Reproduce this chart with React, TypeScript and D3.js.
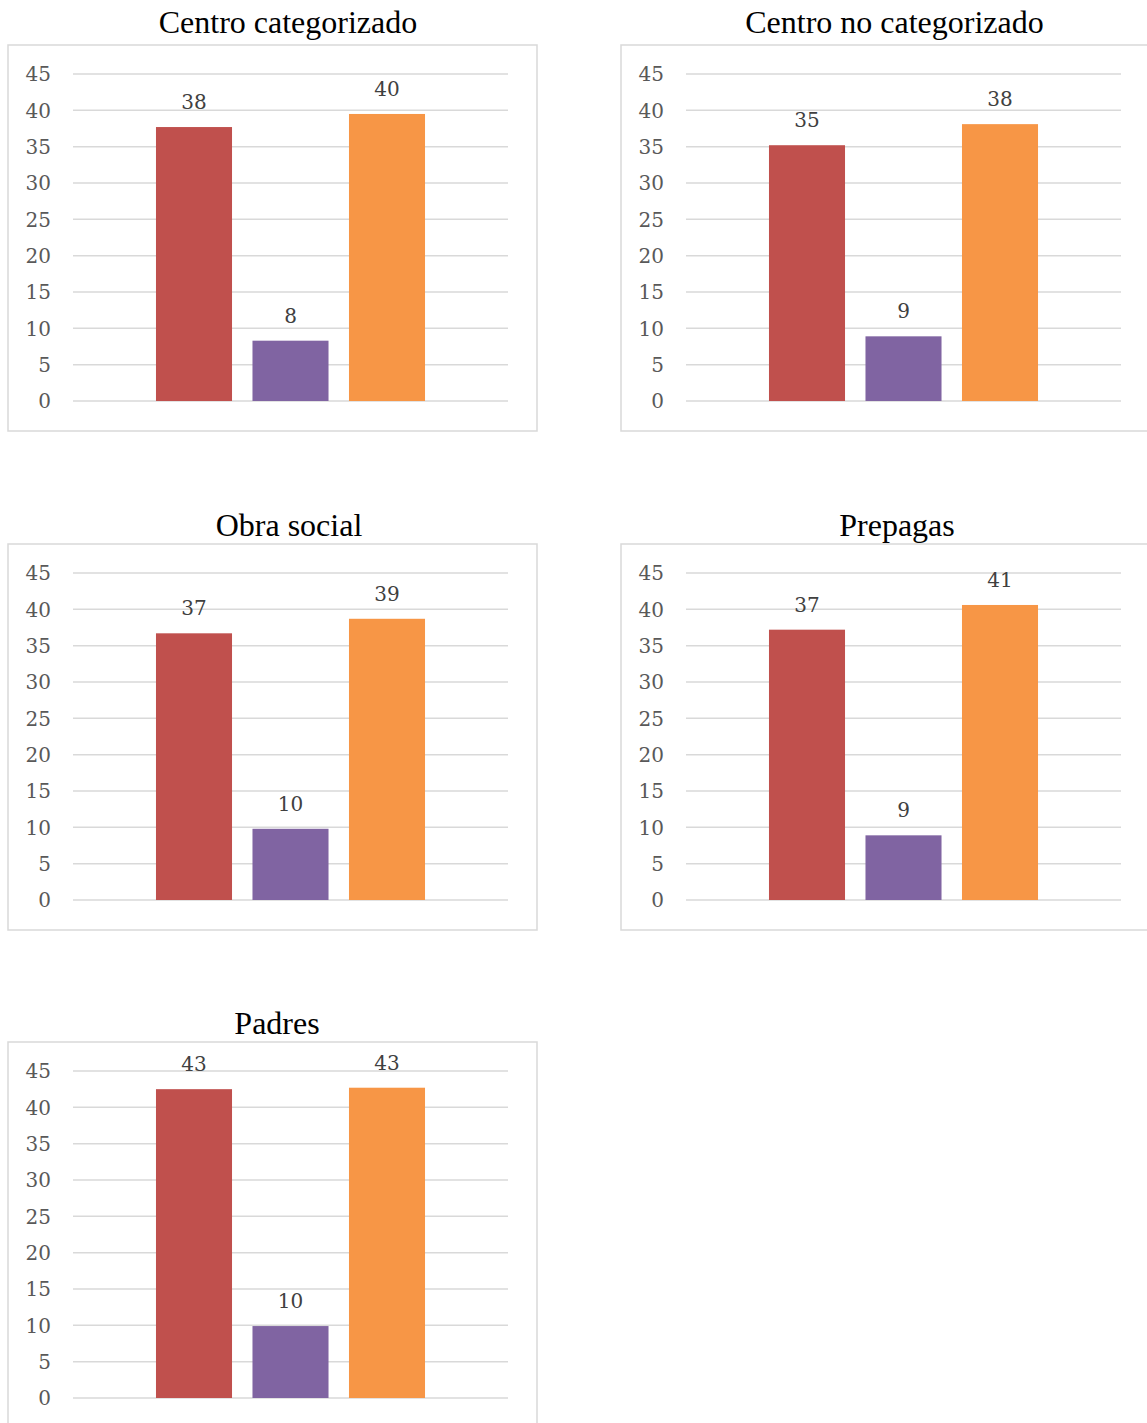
import React from "react";
import * as d3 from "d3";

const titles = ["Centro categorizado", "Centro no categorizado", "Obra social", "Prepagas", "Padres"];
const seriesNames = ["Serie 1", "Serie 2", "Serie 3"];
const seriesColors = ["#C0504D", "#8064A2", "#F79646"];
const valuesCentroCat = [37.7, 8.3, 39.5];
const valuesCentroNoCat = [35.2, 8.9, 38.1];
const valuesObraSocial = [36.7, 9.8, 38.7];
const valuesPrepagas = [37.2, 8.9, 40.6];
const valuesPadres = [42.5, 9.9, 42.7];
const yTicks = [0, 5, 10, 15, 20, 25, 30, 35, 40, 45];

const allValues = [valuesCentroCat, valuesCentroNoCat, valuesObraSocial, valuesPrepagas, valuesPadres];

// layout
const FRAME_W = 529;
const FRAME_H = 386;
const colX = [8, 621];
const rowY = [45, 544, 1042];
const titleGap = [12, 8, 8];
const titleCenter = [280, 273.5, 281, 276, 269];

function SmallChart({ title, values, x0, y0, tg, tc }: { title: string; values: number[]; x0: number; y0: number; tg: number; tc: number }) {
  const gridL = 65, gridR = 500;
  const y = d3.scaleLinear().domain([0, 45]).range([356, 29]);
  const center = (gridL + gridR) / 2;
  const step = 96.5;
  const xb = d3
    .scaleBand<string>()
    .domain(seriesNames)
    .range([center - 1.5 * step, center + 1.5 * step])
    .paddingInner(0.212)
    .paddingOuter(0.106);
  return (
    <g transform={`translate(${x0},${y0})`}>
      <text
        x={tc}
        y={-tg}
        textAnchor="middle"
        fontFamily="'Liberation Serif', 'Times New Roman', serif"
        fontSize={32}
        fill="#000"
      >
        {title}
      </text>
      <rect x={0} y={0} width={FRAME_W} height={FRAME_H} fill="#fff" stroke="#d9d9d9" strokeWidth={1.5} />
      {yTicks.map((t) => (
        <g key={t}>
          <line x1={gridL} x2={gridR} y1={y(t)} y2={y(t)} stroke="#d9d9d9" strokeWidth={1.5} />
          <text
            x={43}
            y={y(t)}
            dy="0.36em"
            textAnchor="end"
            fontFamily="'DejaVu Serif', serif"
            fontSize={20}
            fill="#595959"
          >
            {t}
          </text>
        </g>
      ))}
      {values.map((v, i) => {
        const bx = xb(seriesNames[i])!;
        const bw = xb.bandwidth();
        return (
          <g key={i}>
            <rect x={bx} y={y(v)} width={bw} height={y(0) - y(v)} fill={seriesColors[i]} />
            <text
              x={bx + bw / 2}
              y={y(v) - 18}
              textAnchor="middle"
              fontFamily="'DejaVu Serif', serif"
              fontSize={20}
              fill="#404040"
            >
              {Math.round(v)}
            </text>
          </g>
        );
      })}
    </g>
  );
}

export default function App() {
  return (
    <svg
      width={1147}
      height={1423}
      style={{ position: "absolute", left: 0, top: 0, background: "#fff" }}
    >
      {titles.map((t, i) => (
        <SmallChart
          key={t}
          title={t}
          values={allValues[i]}
          x0={colX[i % 2]}
          y0={rowY[Math.floor(i / 2)]}
          tg={titleGap[Math.floor(i / 2)]}
          tc={titleCenter[i]}
        />
      ))}
    </svg>
  );
}
